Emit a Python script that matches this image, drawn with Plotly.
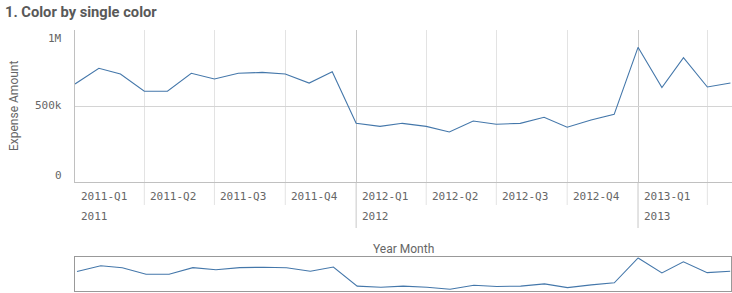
import plotly.graph_objects as go

# ---------------- data ----------------
months = [
    "2011-01", "2011-02", "2011-03", "2011-04", "2011-05", "2011-06",
    "2011-07", "2011-08", "2011-09", "2011-10", "2011-11", "2011-12",
    "2012-01", "2012-02", "2012-03", "2012-04", "2012-05", "2012-06",
    "2012-07", "2012-08", "2012-09", "2012-10", "2012-11", "2012-12",
    "2013-01", "2013-02", "2013-03", "2013-04", "2013-05",
]
expense = [
    645000, 748000, 711000, 597000, 597000, 715000,
    678000, 715000, 721000, 711000, 651000, 726000,
    386000, 366000, 386000, 366000, 329000, 401000,
    380000, 386000, 426000, 360000, 408000, 445000,
    886000, 621000, 818000, 625000, 651000,
]
quarter_labels = ["2011-Q1", "2011-Q2", "2011-Q3", "2011-Q4",
                  "2012-Q1", "2012-Q2", "2012-Q3", "2012-Q4", "2013-Q1"]
year_labels = ["2011", "2012", "2013"]
y_ticks = [0, 500000, 1000000]
y_tick_labels = ["0", "500k", "1M"]

# ---------------- derived ----------------
dates = [m + "-01" for m in months]
quarter_starts = [d for d, m in zip(dates, months) if int(m[5:]) in (1, 4, 7, 10)]
year_starts = [y + "-01-01" for y in year_labels]

W, H = 732, 293
def py(p):
    return (H - p) / H
def px(p):
    return p / W

LINE = "#4477aa"
TXT = "#595959"
TICK = "#666666"
MONO = "DejaVu Sans Mono"
SANS = "Roboto"

fig = go.Figure()
fig.add_trace(go.Scatter(x=dates, y=expense, mode="lines",
                         line=dict(color=LINE, width=1.1),
                         xaxis="x", yaxis="y", hoverinfo="skip"))
fig.add_trace(go.Scatter(x=dates, y=expense, mode="lines",
                         line=dict(color=LINE, width=1.1),
                         xaxis="x2", yaxis="y2", hoverinfo="skip"))

shapes = []
for d in quarter_starts[1:]:
    is_year = d in year_starts
    shapes.append(dict(type="line", xref="x", yref="paper",
                       x0=d, x1=d, y0=py(182), y1=py(228 if is_year else 205),
                       line=dict(color="#c8c8c8" if is_year else "#e3e3e3", width=1),
                       layer="below"))

annotations = [
    dict(text="<b>1. Color by single color</b>", xref="paper", yref="paper",
         x=px(3), y=py(1), xanchor="left", yanchor="top", showarrow=False,
         font=dict(family=SANS, size=14.7, color=TXT)),
    dict(text="Expense Amount", xref="paper", yref="paper",
         x=px(14), y=py(106), xanchor="center", yanchor="middle", textangle=-90,
         showarrow=False, font=dict(family=SANS, size=12, color=TICK)),
    dict(text="Year Month", xref="paper", yref="paper",
         x=px(403), y=py(249), xanchor="center", yanchor="middle",
         showarrow=False, font=dict(family=SANS, size=12, color=TICK)),
]
shift = {0: 7, 500000: 0, 1000000: -9}
for v, t in zip(y_ticks, y_tick_labels):
    annotations.append(dict(text=t, xref="paper", yref="y", x=px(64), y=v,
                            xanchor="right", yanchor="middle", yshift=shift[v],
                            showarrow=False, font=dict(family=MONO, size=11, color=TICK)))
for d, t in zip(quarter_starts, quarter_labels):
    annotations.append(dict(text=t, xref="x", yref="paper", x=d, y=py(196),
                            xanchor="left", yanchor="middle", xshift=4,
                            showarrow=False, font=dict(family=MONO, size=11, color=TICK)))
for d, t in zip(year_starts, year_labels):
    annotations.append(dict(text=t, xref="x", yref="paper", x=d, y=py(216),
                            xanchor="left", yanchor="middle", xshift=4,
                            showarrow=False, font=dict(family=MONO, size=11, color=TICK)))

fig.update_layout(
    width=W, height=H, margin=dict(l=0, r=0, t=0, b=0),
    paper_bgcolor="white", plot_bgcolor="white", showlegend=False,
    xaxis=dict(domain=[px(75), 1], type="date", range=["2011-01-01", "2013-05-03"],
               tickvals=year_starts, showticklabels=False, ticks="",
               showgrid=True, gridcolor="#c8c8c8", gridwidth=1,
               minor=dict(tickvals=quarter_starts, showgrid=True, gridcolor="#e3e3e3", gridwidth=1),
               showline=True, linecolor="#c0c0c0", linewidth=1, zeroline=False,
               anchor="y", fixedrange=True),
    yaxis=dict(domain=[py(182), py(30)], range=[0, 1000000], tickvals=y_ticks,
               showticklabels=False, ticks="", showgrid=True, gridcolor="#d4d4d4",
               showline=True, linecolor="#c0c0c0", linewidth=1, zeroline=False,
               anchor="x", fixedrange=True),
    xaxis2=dict(domain=[px(75), px(731)], type="date",
                range=["2010-12-29 10:00", "2013-05-02"],
                showgrid=False, showticklabels=False, ticks="", zeroline=False,
                showline=True, mirror=True, linecolor="#999999", linewidth=1,
                anchor="y2", fixedrange=True),
    yaxis2=dict(domain=[py(291), py(257.3)], range=[299000, 898000],
                showgrid=False, showticklabels=False, ticks="", zeroline=False,
                showline=True, mirror=True, linecolor="#999999", linewidth=1,
                anchor="x2", fixedrange=True),
    shapes=shapes, annotations=annotations,
)

fig.write_html("out.html", config={"displayModeBar": False})
